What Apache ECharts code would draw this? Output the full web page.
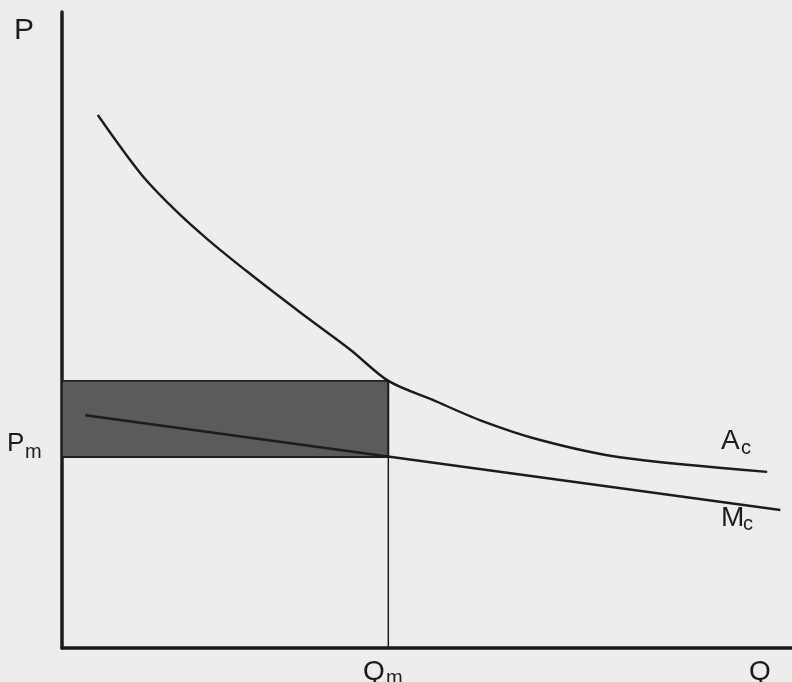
<!DOCTYPE html>
<html>
<head>
<meta charset="utf-8">
<script src="https://cdn.jsdelivr.net/npm/echarts@6/dist/echarts.min.js"></script>
<style>
html,body{margin:0;padding:0;background:#ededed;}
#c{width:792px;height:682px;}
</style>
</head>
<body>
<div id="c"></div>
<script>
// Average cost curve (Ac): quantity / price points
var acQ = [4.9, 10.7, 15.2, 19.9, 25.8, 32.6, 39.5, 44.7, 50.8, 57.3, 65.5, 76.4, 96.6];
var acP = [83.8, 74.7, 69.2, 64.3, 58.8, 52.8, 46.9, 42.0, 39.0, 35.8, 32.7, 30.0, 27.7];
// Marginal cost line (Mc)
var mcQ = [3.2, 98.4];
var mcP = [36.6, 21.7];
// Monopoly quantity and price
var qm = 44.7;
var pm = 30.0;
var acAtQm = 42.0;
// Axis / curve labels
var labelP = 'P', labelQ = 'Q', labelPm = ['P','m'], labelQm = ['Q','m'], labelAc = ['A','c'], labelMc = ['M','c'];

function zip(a, b){ return a.map(function(v,i){ return [v, b[i]]; }); }

var chart = echarts.init(document.getElementById('c'), null, {renderer:'canvas'});
var ink = '#1c1c1c';
var font = '"Liberation Sans", Arial, sans-serif';
function txt(t, x, y, size, align){
  return {type:'text', z:100, style:{text:t, x:x, y:y, fill:ink, font:'normal ' + size + 'px ' + font, textAlign:align||'left', textVerticalAlign:'middle'}};
}
var option = {
  backgroundColor: '#ededed',
  animation: false,
  grid: {left: 62, top: 12, right: 0, bottom: 34, containLabel: false},
  xAxis: {type:'value', min:0, max:100, axisLine:{show:true, onZero:false, lineStyle:{color:ink, width:3.5}}, axisTick:{show:false}, axisLabel:{show:false}, splitLine:{show:false}},
  yAxis: {type:'value', min:0, max:100, axisLine:{show:true, onZero:false, lineStyle:{color:ink, width:3.5}}, axisTick:{show:false}, axisLabel:{show:false}, splitLine:{show:false}},
  series: [
    {type:'line', name:'rect', data:[[0,pm],[qm,pm]], symbol:'none', lineStyle:{color:ink, width:1.8},
      markArea:{silent:true, itemStyle:{color:'#5b5b5b', borderColor:'#222', borderWidth:1.8}, data:[[{coord:[0,pm]},{coord:[qm,acAtQm]}]]}},
    {type:'line', name:'Qm', data:[[qm,0],[qm,acAtQm]], symbol:'none', lineStyle:{color:ink, width:1.5}},
    {type:'line', name:'Ac', data:zip(acQ, acP), smooth:0.3, symbol:'none', lineStyle:{color:ink, width:2.4}},
    {type:'line', name:'Mc', data:zip(mcQ, mcP), symbol:'none', lineStyle:{color:ink, width:2.4}}
  ],
  graphic: [
    txt(labelP, 14, 31, 30),
    txt(labelPm[0], 7, 444, 26), txt(labelPm[1], 25, 452, 20),
    txt(labelAc[0], 721, 441, 28), txt(labelAc[1], 741, 448, 20),
    txt(labelMc[0], 721, 518, 28), txt(labelMc[1], 743, 524, 20),
    txt(labelQm[0], 363, 672, 28), txt(labelQm[1], 386, 678, 20),
    txt(labelQ, 749, 672, 28)
  ]
};
chart.setOption(option);
</script>
</body>
</html>
